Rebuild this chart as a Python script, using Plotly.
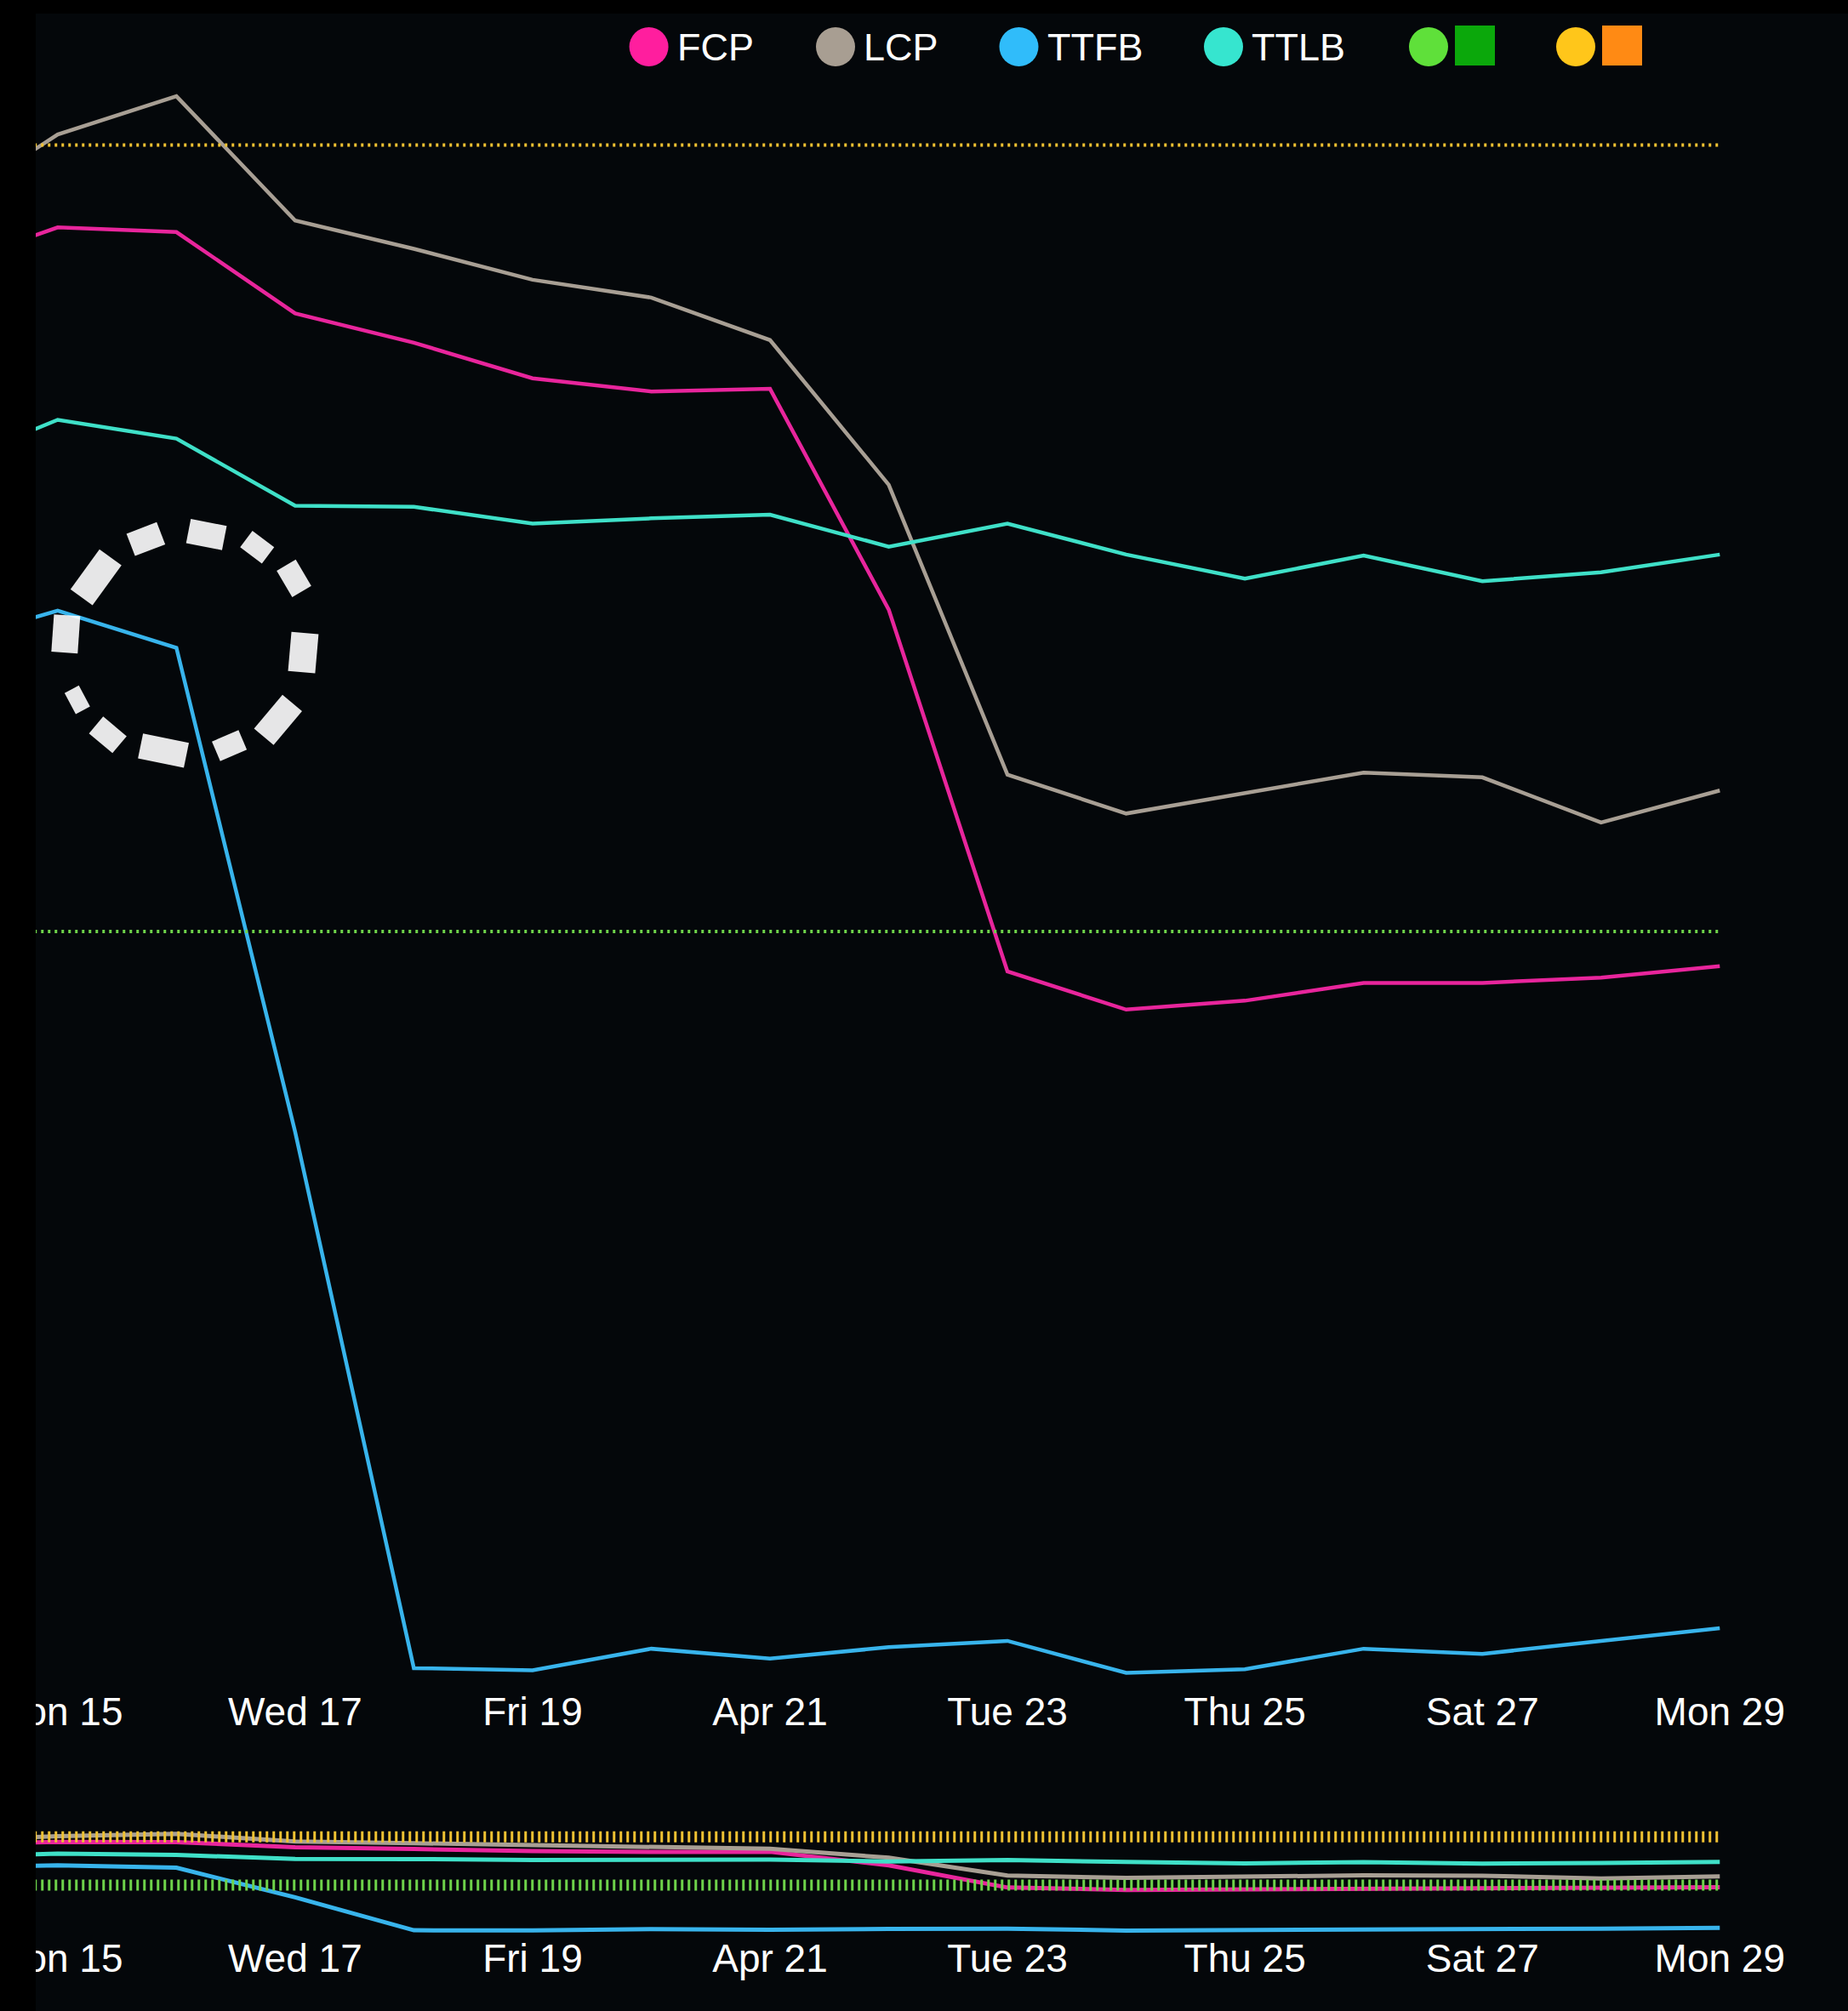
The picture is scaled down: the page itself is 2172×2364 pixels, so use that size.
import math
import pandas as pd
import plotly.graph_objects as go

W, H = 2172, 2364

# ---- data: daily web-vitals medians (ms) -------------------------------
dates = pd.date_range("2024-04-14", "2024-04-29", freq="D")

fcp = [3763, 3843, 3834, 3679, 3623, 3555, 3530, 3535, 3114, 2424, 2351, 2368, 2402, 2402, 2412, 2434]
lcp = [3873, 4020, 4093, 3856, 3802, 3743, 3709, 3628, 3352, 2799, 2725, 2764, 2803, 2794, 2708, 2769]
ttfb = [3046, 3112, 3041, 2118, 1095, 1091, 1132, 1113, 1135, 1147, 1086, 1093, 1132, 1122, 1147, 1171]
ttlb = [3383, 3476, 3440, 3312, 3310, 3278, 3288, 3295, 3234, 3278, 3219, 3173, 3217, 3168, 3185, 3219]

good_threshold = 2500
poor_threshold = 4000

series_names = ["FCP", "LCP", "TTFB", "TTLB"]
series_values = [fcp, lcp, ttfb, ttlb]

tick_dates = ["2024-04-15", "2024-04-17", "2024-04-19", "2024-04-21",
              "2024-04-23", "2024-04-25", "2024-04-27", "2024-04-29"]
tick_text = ["Mon 15", "Wed 17", "Fri 19", "Apr 21", "Tue 23", "Thu 25", "Sat 27", "Mon 29"]

# ---- styling -------------------------------------------------------------
BG = "#04070A"
LINE_COLORS = ["#E8259C", "#A89F94", "#38B4EC", "#3FE0C8"]
LEGEND_COLORS = ["#FF1E9E", "#A89E92", "#30BCFA", "#36E5CF"]
GOOD_COLOR = "#6ED34A"
POOR_COLOR = "#F0C232"
GOOD_SWATCH = ("#5FE03A", "#0BA80B")
POOR_SWATCH = ("#FFC61A", "#FF8A14")
FONT = "Liberation Sans, Arial, sans-serif"


def px(xp):
    return xp / W


def py(yp):
    return 1 - yp / H


# plot geometry in pixels
LEFT = 42
MAIN_TOP, MAIN_BOT = 100, 1990
MINI_TOP, MINI_BOT = 2130, 2280
DAY0_PX, DAY14_PX = 67.8, 2021.3
DAY_PX = (DAY14_PX - DAY0_PX) / 14

anchor_day = pd.Timestamp("2024-04-15")
x_start = anchor_day - pd.Timedelta(days=(DAY0_PX - LEFT) / DAY_PX)
x_end = anchor_day + pd.Timedelta(days=(W - DAY0_PX) / DAY_PX)


def y_range(top_px, bot_px, hi_px, lo_px):
    k = (lo_px - hi_px) / (poor_threshold - good_threshold)
    return [good_threshold - (bot_px - lo_px) / k, poor_threshold + (hi_px - top_px) / k]


main_range = y_range(MAIN_TOP, MAIN_BOT, 170.5, 1095.0)
mini_range = y_range(MINI_TOP, MINI_BOT, 2159.3, 2216.0)

fig = go.Figure()

for axes, lw, tw in (("main", 4.5, 4), ("mini", 5, 13)):
    xa, ya = ("x", "y") if axes == "main" else ("x2", "y2")
    for name, vals, col in zip(series_names, series_values, LINE_COLORS):
        fig.add_trace(go.Scatter(x=dates, y=vals, name=name, mode="lines",
                                 line=dict(color=col, width=lw), xaxis=xa, yaxis=ya,
                                 hoverinfo="skip"))
    for lvl, col in ((poor_threshold, POOR_COLOR), (good_threshold, GOOD_COLOR)):
        fig.add_trace(go.Scatter(x=[dates[0], dates[-1]], y=[lvl, lvl], mode="lines",
                                 line=dict(color=col, width=tw, dash="3px,5px"),
                                 xaxis=xa, yaxis=ya, hoverinfo="skip"))

xaxis_common = dict(
    type="date", range=[x_start, x_end], tickvals=tick_dates, ticktext=tick_text,
    showgrid=False, zeroline=False, showline=False, ticks="",
    tickfont=dict(size=46, color="#FFFFFF", family=FONT), fixedrange=True,
    automargin=False, domain=[px(LEFT), 1],
    ticklabeloverflow="allow", ticklabelstandoff=-9,
)

shapes = []
annotations = []

# legend: series entries
legend_cx = [762.6, 982.0, 1197.5, 1438.0]
LEG_CY, LEG_R = 55, 23
for name, col, cx in zip(series_names, LEGEND_COLORS, legend_cx):
    shapes.append(dict(type="circle", xref="paper", yref="paper",
                       x0=px(cx - LEG_R), x1=px(cx + LEG_R),
                       y0=py(LEG_CY + LEG_R), y1=py(LEG_CY - LEG_R),
                       fillcolor=col, line=dict(width=0), layer="above"))
    annotations.append(dict(text=name, xref="paper", yref="paper", x=px(cx + LEG_R + 8),
                            y=py(LEG_CY + 1), xanchor="left", yanchor="middle",
                            showarrow=False, font=dict(size=45, color="#FFFFFF", family=FONT)))

# legend: threshold entries (dot + square swatch)
for (dot, sq), cx in ((GOOD_SWATCH, 1679.0), (POOR_SWATCH, 1852.0)):
    shapes.append(dict(type="circle", xref="paper", yref="paper",
                       x0=px(cx - LEG_R), x1=px(cx + LEG_R),
                       y0=py(LEG_CY + LEG_R), y1=py(LEG_CY - LEG_R),
                       fillcolor=dot, line=dict(width=0), layer="above"))
    sx = cx + 31
    shapes.append(dict(type="rect", xref="paper", yref="paper",
                       x0=px(sx), x1=px(sx + 47), y0=py(77), y1=py(30),
                       fillcolor=sq, line=dict(width=0), layer="above"))

# busy indicator drawn over the chart
SP_CX, SP_CY = 218, 755
spokes = [  # angle (deg), radius, length, thickness
    (144, 130, 58, 32), (111, 130, 38, 28), (79, 129, 43, 29), (53, 140, 32, 24),
    (30.5, 148, 36, 26), (-5, 139, 46, 32), (-40, 142, 52, 30), (-67, 132, 34, 25),
    (-101.5, 130, 55, 30), (-130, 142, 36, 26), (-152, 144, 28, 19), (176, 141, 44, 31),
]
for ang, r, L, T in spokes:
    a = math.radians(ang)
    ux, uy = math.cos(a), -math.sin(a)
    vx, vy = -math.sin(a), -math.cos(a)
    cx, cy = SP_CX + r * ux, SP_CY + r * uy
    pts = []
    for sl, st in ((1, 1), (1, -1), (-1, -1), (-1, 1)):
        x = cx + sl * L / 2 * vx + st * T / 2 * ux
        y = cy + sl * L / 2 * vy + st * T / 2 * uy
        pts.append(f"{px(x):.5f},{py(y):.5f}")
    shapes.append(dict(type="path", xref="paper", yref="paper",
                       path="M " + " L ".join(pts) + " Z",
                       fillcolor="rgba(255,255,255,0.9)", line=dict(width=0), layer="above"))

# black frame strips at the top and left edges
shapes.append(dict(type="rect", xref="paper", yref="paper", x0=0, x1=px(LEFT), y0=0, y1=1,
                   fillcolor="#000000", line=dict(width=0), layer="above"))
shapes.append(dict(type="rect", xref="paper", yref="paper", x0=0, x1=1, y0=py(16), y1=1,
                   fillcolor="#000000", line=dict(width=0), layer="above"))

fig.update_layout(
    width=W, height=H, margin=dict(l=0, r=0, t=0, b=0, pad=0),
    paper_bgcolor=BG, plot_bgcolor=BG, showlegend=False,
    xaxis=dict(**xaxis_common, anchor="y"),
    yaxis=dict(domain=[py(MAIN_BOT), py(MAIN_TOP)], range=main_range, visible=False,
               fixedrange=True, anchor="x"),
    xaxis2=dict(**xaxis_common, anchor="y2"),
    yaxis2=dict(domain=[py(MINI_BOT), py(MINI_TOP)], range=mini_range, visible=False,
                fixedrange=True, anchor="x2"),
    shapes=shapes, annotations=annotations, hovermode=False,
)

fig.write_html("out.html", config={"displayModeBar": False})
